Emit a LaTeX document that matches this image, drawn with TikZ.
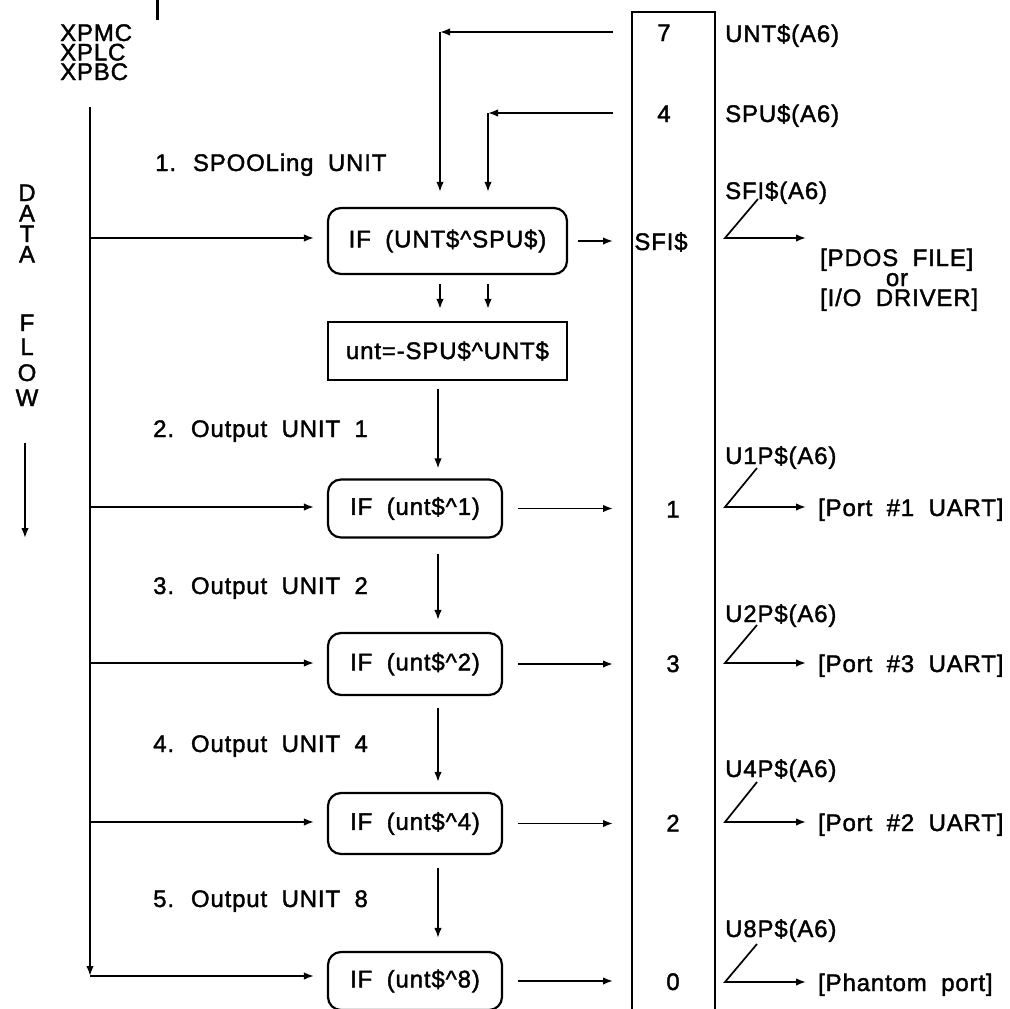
\documentclass[tikz,border=0pt]{standalone}
\usepackage{fontspec}
\setmainfont[LetterSpace=3.5,FakeBold=1.6]{Liberation Sans}
\usetikzlibrary{arrows.meta}
\newcommand\diagfont{\fontsize{24}{29}\selectfont\spaceskip=0.6em plus 0.05em\relax}
\begin{document}
\begin{tikzpicture}[x=1pt,y=-1pt,
  every node/.style={font=\diagfont, inner sep=0pt},
  lbl/.style={anchor=base west},
  ctr/.style={anchor=base},
  rbox/.style={draw, line width=2.2pt, rounded corners=13pt, minimum width=174pt, minimum height=58pt},
  sbox/.style={draw, line width=2.2pt, minimum width=239pt, minimum height=58pt},
  flow/.style={line width=1.7pt, -{Latex[length=10pt,width=7.5pt]}},
  colline/.style={line width=2.6pt}]
\useasboundingbox (0,0) rectangle (1010,1009);

% stray mark at top
\draw[line width=3pt] (157,0) -- (157,20);

% left texts
\node[lbl] (xpmc) at (60,41) {XPMC};
\node[lbl] (xplc) at (60,60.5) {XPLC};
\node[lbl] (xpbc) at (60,80) {XPBC};
\node[lbl] (t1) at (155,171) {1. SPOOLing UNIT};
\node[lbl] (t2) at (153,437) {2. Output UNIT 1};
\node[lbl] (t3) at (153,594) {3. Output UNIT 2};
\node[lbl] (t4) at (153,752) {4. Output UNIT 4};
\node[lbl] (t5) at (153,907) {5. Output UNIT 8};

% DATA FLOW
\node[ctr] (dD) at (27,201) {D};
\node[ctr] (dA) at (27,221.5) {A};
\node[ctr] (dT) at (27,242) {T};
\node[ctr] (dA2) at (27,262.5) {A};
\node[ctr] (fF) at (27,331) {F};
\node[ctr] (fL) at (27,355) {L};
\node[ctr] (fO) at (27,381) {O};
\node[ctr] (fW) at (27,406) {W};
\coordinate (fa) at (25,443);
\coordinate (fb) at (25,538);
\draw[flow] (fa) -- (fb);

% boxes
\node[rbox, minimum width=239pt, minimum height=66pt] (b1) at (447.5,241) {IF (UNT\$\textasciicircum SPU\$)};
\node[sbox] (b2) at (447.5,351) {unt=-SPU\$\textasciicircum UNT\$};
\node[rbox] (b3) at (415,508.5) {IF (unt\$\textasciicircum 1)};
\node[rbox, minimum height=62pt] (b4) at (415,664) {IF (unt\$\textasciicircum 2)};
\node[rbox, minimum height=61pt] (b5) at (415,823.5) {IF (unt\$\textasciicircum 4)};
\node[rbox] (b6) at (415,981) {IF (unt\$\textasciicircum 8)};

% left bus
\coordinate (bus0) at (90,107);
\coordinate (bus1) at (90,238);
\coordinate (bus3) at (90,507);
\coordinate (bus4) at (90,663);
\coordinate (bus5) at (90,822);
\coordinate (busE) at (90,976);
\draw[flow] (bus0) -- (busE);
\draw[flow, shorten >=13pt] (bus1) -- (bus1 -| b1.west);
\draw[flow, shorten >=13pt] (bus3) -- (bus3 -| b3.west);
\draw[flow, shorten >=13pt] (bus4) -- (bus4 -| b4.west);
\draw[flow, shorten >=13pt] (bus5) -- (bus5 -| b5.west);
\draw[flow, shorten >=13pt] (busE) -- (busE -| b6.west);

% column
\draw[colline] (632,1015) -- (632,12) -- (715,12) -- (715,1015);
\node[ctr] (n7) at (664,41) {7};
\node[ctr] (n4) at (664,122) {4};
\node[ctr] (nsfi) at (661,250) {SFI\$};
\node[ctr] (n1) at (673,517.5) {1};
\node[ctr] (n3) at (673,672) {3};
\node[ctr] (n2) at (673,831.5) {2};
\node[ctr] (n0) at (673,990) {0};

% top feed arrows
\coordinate (s7) at (613,32);
\coordinate (k7) at (440,32);
\coordinate (s4) at (613,113);
\coordinate (k4) at (488,113);
\draw[flow] (s7) -- (k7);
\draw[flow, shorten >=15pt] (k7) -- (k7 |- b1.north);
\draw[flow] (s4) -- (k4);
\draw[flow, shorten >=15pt] (k4) -- (k4 |- b1.north);

% b1 -> b2
\draw[flow, shorten <=9pt, shorten >=12pt] (k7 |- b1.south) -- (k7 |- b2.north);
\draw[flow, shorten <=9pt, shorten >=12pt] (k4 |- b1.south) -- (k4 |- b2.north);

% vertical chain
\coordinate (vx) at (438,0);
\draw[flow, shorten <=8pt, shorten >=10pt] (vx |- b2.south) -- (vx |- b3.north);
\draw[flow, shorten <=15pt, shorten >=12pt] (vx |- b3.south) -- (vx |- b4.north);
\draw[flow, shorten <=12pt, shorten >=10pt] (vx |- b4.south) -- (vx |- b5.north);
\draw[flow, shorten <=13pt, shorten >=13pt] (vx |- b5.south) -- (vx |- b6.north);

% to column
\coordinate (e1) at (613,241);
\coordinate (e3) at (613,508.5);
\coordinate (e4) at (613,664);
\coordinate (e5) at (613,823.5);
\coordinate (e6) at (613,981);
\draw[flow, shorten <=10pt] (b1.east) -- (e1);
\draw[flow, shorten <=15pt] (b3.east) -- (e3);
\draw[flow, shorten <=15pt] (b4.east) -- (e4);
\draw[flow, shorten <=15pt] (b5.east) -- (e5);
\draw[flow, shorten <=15pt] (b6.east) -- (e6);

% right labels
\node[lbl] (lunt) at (725,42) {UNT\$(A6)};
\node[lbl] (lspu) at (725,122) {SPU\$(A6)};
\node[lbl] (lsfi) at (725,199) {SFI\$(A6)};
\node[lbl] (lu1) at (725,464) {U1P\$(A6)};
\node[lbl] (lu2) at (725,622) {U2P\$(A6)};
\node[lbl] (lu4) at (725,777) {U4P\$(A6)};
\node[lbl] (lu8) at (725,937) {U8P\$(A6)};

% destinations
\node[lbl] (pdos) at (820,266) {[PDOS FILE]};
\node[ctr] (orw) at (897,286) {or};
\node[lbl] (iod) at (820,306) {[I/O DRIVER]};
\node[lbl] (p1) at (818,516) {[Port \#1 UART]};
\node[lbl] (p3) at (818,672) {[Port \#3 UART]};
\node[lbl] (p2) at (818,831) {[Port \#2 UART]};
\node[lbl] (pp) at (818,991) {[Phantom port]};

% angle arrows
\coordinate (a0) at (758,199); \coordinate (a0b) at (725,238); \coordinate (a0c) at (806,238);
\coordinate (a1) at (757,468); \coordinate (a1b) at (725,507); \coordinate (a1c) at (806,507);
\coordinate (a2) at (757,625); \coordinate (a2b) at (725,663); \coordinate (a2c) at (806,663);
\coordinate (a3) at (757,782); \coordinate (a3b) at (725,822); \coordinate (a3c) at (806,822);
\coordinate (a4) at (757,944); \coordinate (a4b) at (725,982); \coordinate (a4c) at (806,982);
\draw[flow] (a0) -- (a0b) -- (a0c);
\draw[flow] (a1) -- (a1b) -- (a1c);
\draw[flow] (a2) -- (a2b) -- (a2c);
\draw[flow] (a3) -- (a3b) -- (a3c);
\draw[flow] (a4) -- (a4b) -- (a4c);
\end{tikzpicture}
\end{document}
